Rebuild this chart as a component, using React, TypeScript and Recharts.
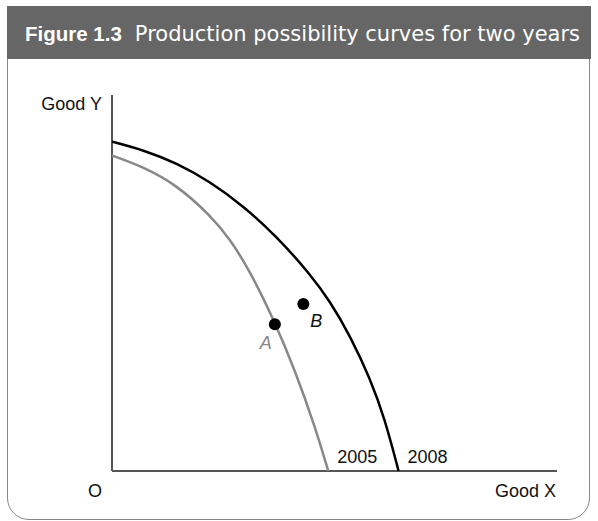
import React from 'react';
import { ComposedChart, Line, Scatter, XAxis, YAxis, ReferenceDot, ReferenceLine } from 'recharts';

// production possibility frontiers, good X vs good Y (arbitrary units 0-100)
const curve2005 = [
  { x: 0, y: 83.9 },
  { x: 7, y: 80.9 },
  { x: 14.5, y: 76.1 },
  { x: 22, y: 68.1 },
  { x: 26.5, y: 61.7 },
  { x: 31, y: 53.2 },
  { x: 36.6, y: 39.6 },
  { x: 41.1, y: 26.8 },
  { x: 45.6, y: 11.9 },
  { x: 48.6, y: 0 },
];

const curve2008 = [
  { x: 0, y: 87.6 },
  { x: 7, y: 85.4 },
  { x: 14.5, y: 81.9 },
  { x: 22, y: 77.0 },
  { x: 29.5, y: 70.5 },
  { x: 37, y: 62.4 },
  { x: 44.5, y: 52.4 },
  { x: 49, y: 45.1 },
  { x: 53.5, y: 36.0 },
  { x: 58, y: 24.6 },
  { x: 61.3, y: 13.9 },
  { x: 64.4, y: 0 },
];

const points = [
  { x: 36.6, y: 39.0, name: 'A' },
  { x: 43.0, y: 44.4, name: 'B' },
];

const yearLabels = [
  { x: 48.6, y: 0, name: '2005' },
  { x: 64.4, y: 0, name: '2008' },
];

const W = 598;
const H = 521;
const font = '"Liberation Sans", Arial, sans-serif';

const tag = (txt: string, dx: number, dy: number, anchor: string, fill = '#111', italic = false) =>
  (props: any) => {
    const vb = props.viewBox;
    return (
      <text
        x={vb.x + dx}
        y={vb.y + dy}
        textAnchor={anchor}
        fill={fill}
        fontSize={18}
        fontFamily={font}
        fontStyle={italic ? 'italic' : 'normal'}
      >
        {txt}
      </text>
    );
  };

const Dot = (p: any) => <circle cx={p.cx} cy={p.cy} r={6} fill="#000" />;

export default function App() {
  return (
    <div style={{ position: 'absolute', left: 0, top: 0, width: W, height: H, background: '#fff', overflow: 'hidden' }}>
      {/* frame + title bar */}
      <div
        style={{
          position: 'absolute',
          left: 7,
          top: 6,
          width: 581,
          height: 512,
          border: '1.5px solid #888',
          borderRadius: '0 0 22px 22px',
        }}
      />
      <div
        style={{
          position: 'absolute',
          left: 7,
          top: 6,
          width: 584,
          height: 53,
          background: '#666',
        }}
      >
        <div
          style={{
            position: 'absolute',
            left: 18,
            top: 16,
            color: '#fff',
            fontSize: 21,
            lineHeight: '24px',
            whiteSpace: 'nowrap',
            fontFamily: '"DejaVu Sans", sans-serif',
          }}
        >
          <span style={{ fontFamily: font, fontWeight: 'bold', fontSize: 20.5 }}>Figure 1.3</span>
          <span style={{ marginLeft: 13 }}>Production possibility curves for two years</span>
        </div>
      </div>

      <div style={{ position: 'absolute', left: 0, top: 0 }}>
        <ComposedChart width={W} height={H} margin={{ top: 95, left: 112, right: 41, bottom: 50 }}>
          <XAxis type="number" dataKey="x" domain={[0, 100]} hide />
          <YAxis type="number" dataKey="y" domain={[0, 100]} hide />
          <ReferenceLine x={0} stroke="#555" strokeWidth={2} />
          <ReferenceLine y={0} stroke="#555" strokeWidth={2} />
          <Line
            data={curve2005}
            dataKey="y"
            type="basis"
            stroke="#888"
            strokeWidth={2.5}
            dot={false}
            isAnimationActive={false}
          />
          <Line
            data={curve2008}
            dataKey="y"
            type="basis"
            stroke="#000"
            strokeWidth={2.5}
            dot={false}
            isAnimationActive={false}
          />
          <Scatter data={points} dataKey="y" shape={Dot} isAnimationActive={false} />

          <ReferenceDot x={points[0].x} y={points[0].y} r={0} fillOpacity={0} strokeOpacity={0}
            label={tag(points[0].name, -9, 25, 'middle', '#888', true)} />
          <ReferenceDot x={points[1].x} y={points[1].y} r={0} fillOpacity={0} strokeOpacity={0}
            label={tag(points[1].name, 13, 23, 'middle', '#111', true)} />
          {yearLabels.map((d) => (
            <ReferenceDot key={d.name} x={d.x} y={d.y} r={0} fillOpacity={0} strokeOpacity={0}
              label={tag(d.name, 9, -8, 'start')} />
          ))}
          <ReferenceDot x={0} y={100} r={0} fillOpacity={0} strokeOpacity={0}
            label={tag('Good Y', -10, 15, 'end')} />
          <ReferenceDot x={0} y={0} r={0} fillOpacity={0} strokeOpacity={0}
            label={tag('O', -17, 26, 'middle')} />
          <ReferenceDot x={100} y={0} r={0} fillOpacity={0} strokeOpacity={0}
            label={tag('Good  X', -1, 26, 'end')} />
        </ComposedChart>
      </div>
    </div>
  );
}
